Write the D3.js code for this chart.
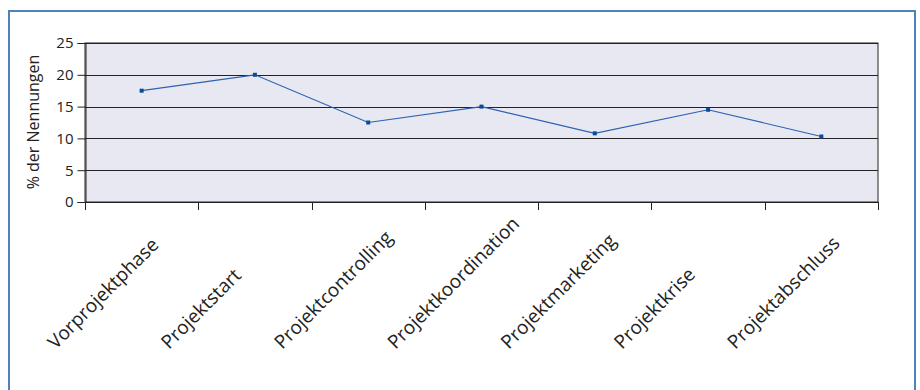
<!DOCTYPE html>
<html>
<head>
<meta charset="utf-8">
<script src="https://cdn.jsdelivr.net/npm/d3@7"></script>
<style>
  body { margin: 0; background: #fff; }
  svg { display: block; font-family: "Open Sans", sans-serif; }
</style>
</head>
<body>
<svg id="chart" width="920" height="390"></svg>
<script>
const categories = ["Vorprojektphase", "Projektstart", "Projektcontrolling", "Projektkoordination",
    "Projektmarketing", "Projektkrise", "Projektabschluss"];
const values = [17.5, 20, 12.5, 15, 10.8, 14.5, 10.3];
const yTicks = [0, 5, 10, 15, 20, 25];

const svg = d3.select("#chart");
const margin = { left: 85, top: 43, right: 878, bottom: 202 };

// outer frame
svg.append("rect")
    .attr("x", 9).attr("y", 11)
    .attr("width", 906).attr("height", 400)
    .attr("fill", "#fff")
    .attr("stroke", "#4f81bd")
    .attr("stroke-width", 2);

const x = d3.scaleBand()
    .domain(categories)
    .range([margin.left, margin.right]);

const y = d3.scaleLinear()
    .domain([0, 25])
    .range([margin.bottom, margin.top]);

svg.append("rect")
    .attr("x", margin.left).attr("y", margin.top)
    .attr("width", margin.right - margin.left)
    .attr("height", margin.bottom - margin.top)
    .attr("fill", "#e8e8f2")
    .attr("stroke", "#222")
    .attr("stroke-width", 1);

// grid lines
svg.append("g")
    .selectAll("line")
    .data(yTicks)
    .enter().append("line")
    .attr("x1", margin.left).attr("x2", margin.right)
    .attr("y1", d => Math.round(y(d)) + 0.5)
    .attr("y2", d => Math.round(y(d)) + 0.5)
    .attr("stroke", "#222");

// y axis
const yAxis = svg.append("g")
    .attr("transform", `translate(${margin.left + 0.5},0)`)
    .call(d3.axisLeft(y).tickValues(yTicks).tickSize(8).tickPadding(4));
yAxis.select(".domain").attr("stroke", "#222");
yAxis.selectAll(".tick line").attr("stroke", "#222");
yAxis.selectAll("text").attr("font-size", 15).attr("fill", "#222")
    .attr("font-family", "Open Sans, sans-serif");

// x axis ticks at category boundaries
const boundaries = categories.map(c => x(c)).concat([margin.right]);
svg.append("g")
    .selectAll("line")
    .data(boundaries)
    .enter().append("line")
    .attr("x1", d => Math.round(d) + 0.5).attr("x2", d => Math.round(d) + 0.5)
    .attr("y1", margin.bottom).attr("y2", margin.bottom + 8)
    .attr("stroke", "#222");

// x labels, start-aligned along a common bottom line
svg.append("g")
    .selectAll("text")
    .data(categories)
    .enter().append("text")
    .attr("transform", d => `translate(${x(d) + x.bandwidth() / 2 - 86},350) rotate(-45)`)
    .attr("text-anchor", "start")
    .attr("font-size", 19)
    .attr("fill", "#222")
    .text(d => d);

// y title
svg.append("text")
    .attr("transform", `translate(39,122) rotate(-90)`)
    .attr("text-anchor", "middle")
    .attr("font-size", 16)
    .attr("fill", "#222")
    .text("% der Nennungen");

// line
const line = d3.line()
    .x((d, i) => x(categories[i]) + x.bandwidth() / 2)
    .y(d => y(d));

svg.append("path")
    .datum(values)
    .attr("d", line)
    .attr("fill", "none")
    .attr("stroke", "#2b62b0")
    .attr("stroke-width", 1.2);

svg.append("g")
    .selectAll("rect")
    .data(values)
    .enter().append("rect")
    .attr("x", (d, i) => x(categories[i]) + x.bandwidth() / 2 - 2)
    .attr("y", d => y(d) - 2)
    .attr("width", 4).attr("height", 4)
    .attr("fill", "#0b4a9a");
</script>
</body>
</html>
